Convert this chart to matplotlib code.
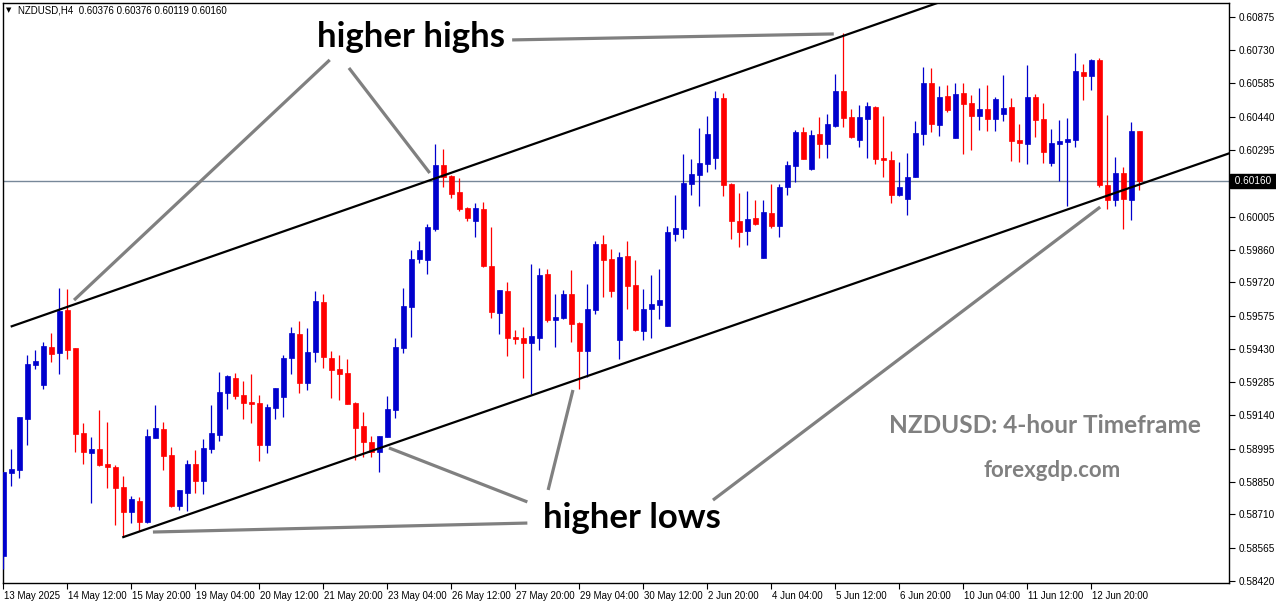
import matplotlib
matplotlib.use("Agg")
import matplotlib.pyplot as plt
import matplotlib.transforms as mtransforms

plt.rcParams['font.family'] = ['Liberation Sans', 'DejaVu Sans']

# ---------------- data ----------------
header_text = "NZDUSD,H4  0.60376 0.60376 0.60119 0.60160"

opens = [0.58529, 0.58891, 0.58903, 0.59125, 0.59361, 0.59273, 0.59438, 0.59413, 0.59599, 0.59434,
         0.59062, 0.58978, 0.58994, 0.58929, 0.58916, 0.58829, 0.58721, 0.58768, 0.58678, 0.59043,
         0.59081, 0.58968, 0.58746, 0.58804, 0.58929, 0.58855, 0.58995, 0.59055, 0.59238, 0.59303,
         0.59229, 0.59199, 0.59194, 0.59013, 0.59174, 0.59222, 0.59391, 0.59496, 0.59283, 0.59418,
         0.59634, 0.59390, 0.59342, 0.59325, 0.59194, 0.59094, 0.59024, 0.58980, 0.59048, 0.59165,
         0.59435, 0.59613, 0.59821, 0.59816, 0.59953, 0.60230, 0.60182, 0.60112, 0.60043, 0.59987,
         0.60038, 0.59790, 0.59587, 0.59682, 0.59480, 0.59477, 0.59457, 0.59478, 0.59756, 0.59555,
         0.59562, 0.59669, 0.59544, 0.59422, 0.59599, 0.59886, 0.59821, 0.59470, 0.59834, 0.59708,
         0.59509, 0.59603, 0.59621, 0.59531, 0.59931, 0.59953, 0.60148, 0.60188, 0.60235, 0.60262,
         0.60521, 0.60147, 0.59985, 0.59944, 0.59999, 0.59825, 0.60021, 0.59964, 0.60135, 0.60225,
         0.60373, 0.60212, 0.60365, 0.60322, 0.60399, 0.60552, 0.60439, 0.60340, 0.60431, 0.60483,
         0.60260, 0.60251, 0.60101, 0.60083, 0.60178, 0.60366, 0.60587, 0.60405, 0.60530, 0.60349,
         0.60543, 0.60500, 0.60444, 0.60473, 0.60431, 0.60453, 0.60482, 0.60339, 0.60322, 0.60526,
         0.60430, 0.60240, 0.60322, 0.60331, 0.60340, 0.60634, 0.60618, 0.60687, 0.60143, 0.60078,
         0.60195, 0.60078, 0.60376]
highs = [0.58893, 0.58994, 0.59133, 0.59403, 0.59425, 0.59460, 0.59499, 0.59695, 0.59690, 0.59434,
         0.59106, 0.59046, 0.59164, 0.59112, 0.58925, 0.58877, 0.58790, 0.58787, 0.59081, 0.59186,
         0.59110, 0.59004, 0.58816, 0.58946, 0.58990, 0.59038, 0.59187, 0.59330, 0.59317, 0.59325,
         0.59290, 0.59321, 0.59229, 0.59191, 0.59260, 0.59404, 0.59525, 0.59551, 0.59521, 0.59682,
         0.59669, 0.59422, 0.59403, 0.59386, 0.59200, 0.59155, 0.59052, 0.59051, 0.59225, 0.59477,
         0.59695, 0.59860, 0.59899, 0.59974, 0.60321, 0.60299, 0.60186, 0.60173, 0.60046, 0.60063,
         0.60069, 0.59960, 0.59686, 0.59721, 0.59512, 0.59525, 0.59799, 0.59780, 0.59776, 0.59669,
         0.59686, 0.59773, 0.59548, 0.59712, 0.59900, 0.59925, 0.59866, 0.59851, 0.59899, 0.59816,
         0.59690, 0.59751, 0.59779, 0.59963, 0.60099, 0.60278, 0.60256, 0.60391, 0.60443, 0.60552,
         0.60543, 0.60150, 0.60108, 0.60117, 0.60078, 0.60078, 0.60148, 0.60148, 0.60247, 0.60383,
         0.60395, 0.60383, 0.60439, 0.60452, 0.60627, 0.60805, 0.60473, 0.60491, 0.60504, 0.60486,
         0.60443, 0.60291, 0.60243, 0.60282, 0.60421, 0.60656, 0.60652, 0.60575, 0.60578, 0.60587,
         0.60587, 0.60534, 0.60565, 0.60578, 0.60526, 0.60621, 0.60521, 0.60408, 0.60665, 0.60539,
         0.60500, 0.60386, 0.60426, 0.60434, 0.60717, 0.60669, 0.60691, 0.60695, 0.60447, 0.60265,
         0.60221, 0.60417, 0.60376]
lows = [0.58472, 0.58834, 0.58869, 0.59013, 0.59344, 0.59255, 0.59373, 0.59320, 0.59386, 0.58981,
        0.58929, 0.58761, 0.58920, 0.58826, 0.58663, 0.58611, 0.58674, 0.58639, 0.58672, 0.59040,
        0.58903, 0.58743, 0.58729, 0.58726, 0.58801, 0.58800, 0.58978, 0.59030, 0.59168, 0.59210,
        0.59123, 0.59106, 0.58943, 0.58977, 0.59126, 0.59135, 0.59322, 0.59239, 0.59251, 0.59374,
        0.59348, 0.59217, 0.59209, 0.59188, 0.58945, 0.58961, 0.58961, 0.58895, 0.59048, 0.59130,
        0.59413, 0.59483, 0.59805, 0.59757, 0.59944, 0.60135, 0.60088, 0.60030, 0.59987, 0.59918,
        0.59787, 0.59565, 0.59496, 0.59400, 0.59450, 0.59304, 0.59232, 0.59426, 0.59548, 0.59439,
        0.59560, 0.59461, 0.59254, 0.59309, 0.59583, 0.59657, 0.59657, 0.59387, 0.59602, 0.59508,
        0.59470, 0.59478, 0.59561, 0.59531, 0.59899, 0.59913, 0.60101, 0.60053, 0.60201, 0.60214,
        0.60096, 0.59909, 0.59874, 0.59883, 0.59970, 0.59825, 0.59957, 0.59918, 0.60101, 0.60157,
        0.60257, 0.60208, 0.60262, 0.60262, 0.60396, 0.60396, 0.60347, 0.60309, 0.60262, 0.60235,
        0.60179, 0.60066, 0.60096, 0.60014, 0.60178, 0.60318, 0.60375, 0.60357, 0.60462, 0.60349,
        0.60279, 0.60296, 0.60383, 0.60379, 0.60379, 0.60423, 0.60248, 0.60244, 0.60235, 0.60353,
        0.60240, 0.60227, 0.60161, 0.60053, 0.60309, 0.60513, 0.60556, 0.60135, 0.60040, 0.60053,
        0.59953, 0.59992, 0.60119]
closes = [0.58893, 0.58907, 0.59133, 0.59364, 0.59377, 0.59442, 0.59409, 0.59596, 0.59425, 0.59059,
          0.58981, 0.58994, 0.58925, 0.58917, 0.58826, 0.58721, 0.58777, 0.58678, 0.59051, 0.59086,
          0.58965, 0.58746, 0.58816, 0.58929, 0.58855, 0.58999, 0.59064, 0.59242, 0.59312, 0.59225,
          0.59196, 0.59191, 0.59013, 0.59177, 0.59260, 0.59390, 0.59500, 0.59283, 0.59418, 0.59638,
          0.59396, 0.59338, 0.59322, 0.59191, 0.59087, 0.59026, 0.58982, 0.59051, 0.59168, 0.59438,
          0.59616, 0.59821, 0.59860, 0.59960, 0.60230, 0.60179, 0.60105, 0.60037, 0.59999, 0.60043,
          0.59790, 0.59590, 0.59686, 0.59478, 0.59474, 0.59457, 0.59487, 0.59751, 0.59554, 0.59568,
          0.59670, 0.59539, 0.59422, 0.59603, 0.59886, 0.59818, 0.59682, 0.59830, 0.59705, 0.59511,
          0.59603, 0.59625, 0.59642, 0.59938, 0.59956, 0.60151, 0.60191, 0.60238, 0.60365, 0.60521,
          0.60143, 0.59987, 0.59940, 0.59995, 0.59974, 0.60025, 0.59964, 0.60134, 0.60230, 0.60373,
          0.60257, 0.60360, 0.60322, 0.60408, 0.60552, 0.60436, 0.60352, 0.60439, 0.60486, 0.60257,
          0.60250, 0.60101, 0.60134, 0.60178, 0.60369, 0.60587, 0.60409, 0.60526, 0.60470, 0.60539,
          0.60496, 0.60444, 0.60473, 0.60431, 0.60517, 0.60478, 0.60336, 0.60327, 0.60526, 0.60427,
          0.60288, 0.60326, 0.60334, 0.60343, 0.60639, 0.60618, 0.60687, 0.60143, 0.60078, 0.60195,
          0.60082, 0.60378, 0.60160]

x_tick_bars = [0, 8, 16, 24, 32, 40, 48, 56, 64, 72, 80, 88, 96, 104, 112, 120, 128, 136]
x_tick_labels = ["13 May 2025", "14 May 12:00", "15 May 20:00", "19 May 04:00", "20 May 12:00",
                 "21 May 20:00", "23 May 04:00", "26 May 12:00", "27 May 20:00", "29 May 04:00",
                 "30 May 12:00", "2 Jun 20:00", "4 Jun 04:00", "5 Jun 12:00", "6 Jun 20:00",
                 "10 Jun 04:00", "11 Jun 12:00", "12 Jun 20:00"]
y_tick_values = [0.60875, 0.60730, 0.60585, 0.60440, 0.60295, 0.60150, 0.60005, 0.59860, 0.59720,
                 0.59575, 0.59430, 0.59285, 0.59140, 0.58995, 0.58850, 0.58710, 0.58565, 0.58420]
hidden_tick = 0.60150  # label hidden behind the current-price box
current_price = 0.60160

# channel lines (bar index, price)
upper_line_x = [1.05, 125.0]
upper_line_y = [0.59528, 0.61035]
lower_line_x = [15.0, 155.0]
lower_line_y = [0.58611, 0.60302]

# annotation pointer lines (bar index, price)
hh_lines = [((63.6, 0.60774), (103.8, 0.60800)),
            ((40.8, 0.60687), (8.84, 0.59642)),
            ((43.2, 0.60652), (53.3, 0.60195))]
hl_lines = [((65.5, 0.58672), (18.7, 0.58633)),
            ((65.5, 0.58764), (48.2, 0.58999)),
            ((68.1, 0.58816), (71.2, 0.59251)),
            ((88.7, 0.58772), (137.1, 0.60047))]

# ---------------- figure ----------------
W, H = 1276, 604
fig = plt.figure(figsize=(W / 100, H / 100), dpi=100)
ax = fig.add_axes([3 / W, (H - 583) / H, (1229 - 3) / W, (583 - 3) / H])

BLUE = "#0000CD"
RED = "#FF0000"
xs = list(range(len(opens)))
colors = [BLUE if c >= o else RED for o, c in zip(opens, closes)]

ax.vlines(xs, lows, highs, colors=colors, linewidth=0.9, zorder=3)
bottoms = [min(o, c) for o, c in zip(opens, closes)]
heights = [max(abs(c - o), 0.00004) for o, c in zip(opens, closes)]
ax.bar(xs, heights, bottom=bottoms, width=0.62, color=colors, edgecolor=colors,
       linewidth=0.5, zorder=4)

# current price line
ax.axhline(current_price, color="#778899", linewidth=1.0, zorder=2)

# channel
ax.plot(upper_line_x, upper_line_y, color="black", linewidth=1.6, zorder=5)
ax.plot(lower_line_x, lower_line_y, color="black", linewidth=1.6, zorder=5)

# annotation lines
for (p0, p1) in hh_lines + hl_lines:
    ax.plot([p0[0], p1[0]], [p0[1], p1[1]], color="#808080", linewidth=2.3,
            solid_capstyle="butt", zorder=6)

ax.set_xlim(-0.04, 153.2)
ax.set_ylim(0.584112, 0.609346)

# axes styling
for s in ax.spines.values():
    s.set_linewidth(1.0)
    s.set_color("black")

ax.yaxis.tick_right()
ax.set_yticks(y_tick_values)
ax.set_yticklabels(["" if v == hidden_tick else f"{v:.5f}" for v in y_tick_values])
ax.tick_params(axis="y", length=4, width=0.8, pad=3, labelsize=7.2, colors="black")

ax.set_xticks(x_tick_bars)
ax.set_xticklabels(x_tick_labels)
ax.tick_params(axis="x", length=4, width=0.8, pad=1.5, labelsize=7, colors="black")
offset = mtransforms.ScaledTranslation(1 / 100, 0, fig.dpi_scale_trans)
for lbl in ax.get_xticklabels():
    lbl.set_ha("left")
    lbl.set_transform(lbl.get_transform() + offset)

# price label box
trans = mtransforms.blended_transform_factory(ax.transAxes, ax.transData)
ax.text(1.0, current_price, " 0.60160 ",
        transform=trans + mtransforms.ScaledTranslation(3 / 100, 0, fig.dpi_scale_trans),
        ha="left", va="center", fontsize=7.2, color="white", clip_on=False, zorder=10,
        bbox=dict(boxstyle="square,pad=0.2", facecolor="black", edgecolor="black"))

# header
fig.text(6 / W, 1 - 10 / H, "\u25BC", fontsize=5, ha="left", va="center", family="DejaVu Sans")
fig.text(18 / W, 1 - 10.5 / H, header_text, fontsize=7, ha="left", va="center")

# annotations text
fig.text(317 / W, 1 - 47 / H, "higher highs", fontsize=25, fontweight="bold",
         family=["Lato", "DejaVu Sans"], color="black", ha="left", va="baseline")
fig.text(543 / W, 1 - 528 / H, "higher lows", fontsize=25, fontweight="bold",
         family=["Lato", "DejaVu Sans"], color="black", ha="left", va="baseline")
fig.text(1045 / W, 1 - 433 / H, "NZDUSD: 4-hour Timeframe", fontsize=17.6, fontweight="bold",
         family=["Lato", "DejaVu Sans"], color="#808080", ha="center", va="baseline")
fig.text(1052 / W, 1 - 477 / H, "forexgdp.com", fontsize=16, fontweight="bold",
         family=["Lato", "DejaVu Sans"], color="#808080", ha="center", va="baseline")

fig.savefig("out.png", dpi=100, facecolor="white")
